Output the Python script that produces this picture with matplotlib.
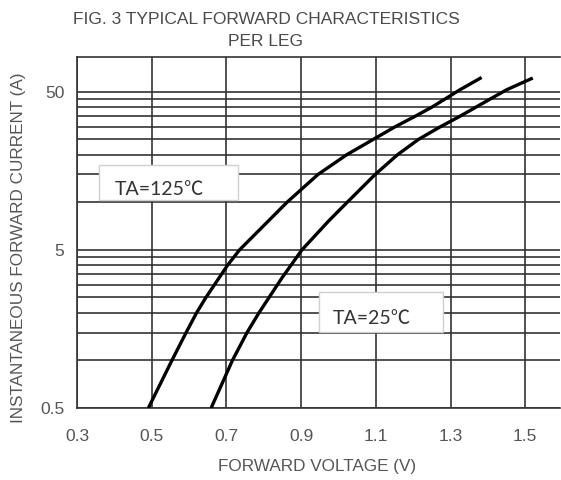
import numpy as np
import matplotlib
matplotlib.use("Agg")
import matplotlib.pyplot as plt
from matplotlib.patches import Rectangle

# Courbes (tension directe en V, courant en A)
v_125 = [0.491, 0.554, 0.592, 0.620, 0.645, 0.703, 0.735, 0.862, 0.945,
         1.022, 1.093, 1.151, 1.205, 1.250, 1.285, 1.325, 1.383]
i_125 = [0.5, 1.0, 1.5, 2.0, 2.5, 4.0, 5.0, 10, 15,
         20, 25, 30, 35, 40, 45, 51.5, 61.6]

v_25 = [0.659, 0.716, 0.755, 0.787, 0.848, 0.902, 0.972, 1.003, 1.098,
        1.158, 1.214, 1.272, 1.325, 1.368, 1.406, 1.450, 1.520]
i_25 = [0.5, 1.0, 1.5, 2.0, 3.31, 5.0, 7.55, 8.96, 15,
        20, 25, 30, 35, 40, 45, 51.5, 61.1]

# Graduations
x_ticks = [0.3, 0.5, 0.7, 0.9, 1.1, 1.3, 1.5]
y_major = [0.5, 5, 50]
y_minor = [1, 1.5, 2, 2.5, 3, 3.5, 4, 4.5, 10, 15, 20, 25, 30, 35, 40, 45]

gris = '#555555'
grille = '#333333'
police = 'Liberation Sans'

fig = plt.figure(figsize=(5.61, 4.8), dpi=100)
ax = fig.add_axes([0.1373, 0.15, 0.861, 0.73125])

ax.plot(v_125, i_125, color='black', lw=2.4, solid_capstyle='butt',
        solid_joinstyle='round', zorder=4)
ax.plot(v_25, i_25, color='black', lw=2.4, solid_capstyle='butt',
        solid_joinstyle='round', zorder=4)

ax.set_yscale('log')
ax.set_xlim(0.3, 1.593)
ax.set_ylim(0.5, 83)

ax.set_xticks(x_ticks)
ax.set_xticklabels([f"{v:.1f}" for v in x_ticks], family=police, fontsize=12.5)
ax.set_yticks(y_major)
ax.set_yticklabels(["0.5", "5", "50"], family=police, fontsize=12.5)
ax.set_yticks(y_minor, minor=True)
ax.yaxis.set_minor_formatter(plt.NullFormatter())

ax.grid(True, which='major', color=grille, lw=1.2)
ax.grid(True, which='minor', axis='y', color=grille, lw=1.2)
ax.tick_params(which='both', length=0, labelcolor=gris)
ax.tick_params(axis='x', pad=15)
ax.tick_params(axis='y', pad=9)

for s in ['left', 'bottom', 'top']:
    ax.spines[s].set_color(grille)
    ax.spines[s].set_linewidth(1.2)
ax.spines['right'].set_visible(False)

W, H = 561, 480
fig.text(317 / W, 1 - 467 / H, "FORWARD VOLTAGE (V)", ha='center', va='center',
         fontsize=12.3, color=gris, family=police)
fig.text(19 / W, 1 - 248 / H, "INSTANTANEOUS FORWARD CURRENT (A)", ha='center', va='center',
         rotation=90, fontsize=12.3, color=gris, family=police)

fig.text(266 / W, 1 - 19 / H, "FIG. 3 TYPICAL FORWARD CHARACTERISTICS", ha='center', va='center',
         fontsize=12.5, color='#4a4a4a', family=police)
fig.text(266 / W, 1 - 41 / H, "PER LEG", ha='center', va='center', fontsize=12.5,
         color='#4a4a4a', family=police)

# Étiquettes de température
for (x0, y0, x1, y1, tx, ty, txt) in [(99, 165, 238, 200, 115, 190, "TA=125℃"),
                                      (319, 292, 443, 332, 333, 318, "TA=25℃")]:
    fig.patches.append(Rectangle((x0 / W, 1 - y1 / H), (x1 - x0) / W, (y1 - y0) / H,
                                 transform=fig.transFigure, facecolor='white',
                                 edgecolor='#d0d0d0', lw=1, zorder=5))
    fig.text(tx / W, 1 - ty / H, txt, ha='left', va='center', fontsize=14,
             color='#333333', family=['Lato', 'Noto Sans CJK SC', 'DejaVu Sans'], zorder=6)

fig.savefig("out.png", dpi=100)
